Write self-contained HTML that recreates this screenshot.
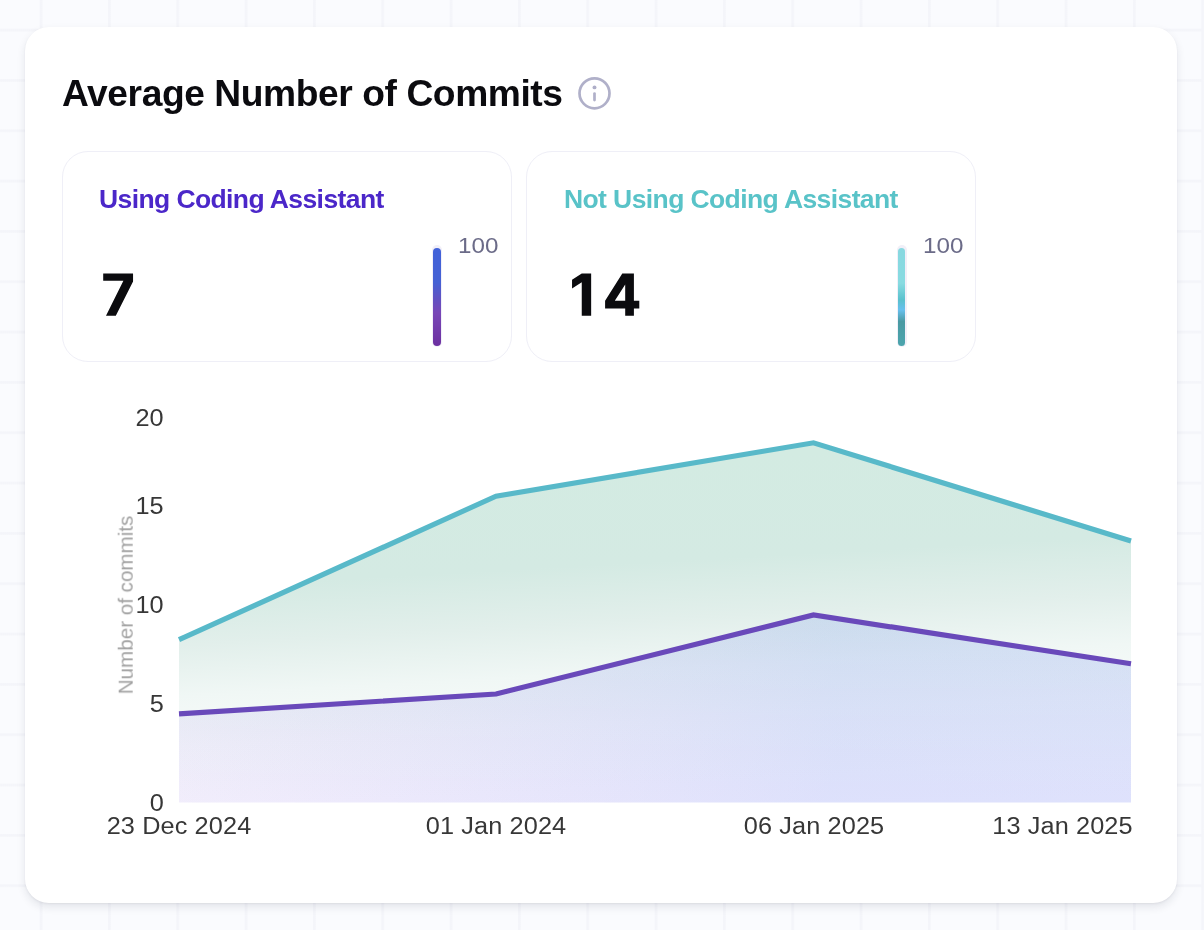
<!DOCTYPE html>
<html>
<head>
<meta charset="utf-8">
<title>Average Number of Commits</title>
<style>
  * { box-sizing: border-box; margin: 0; padding: 0; }
  html, body { width: 1204px; height: 930px; overflow: hidden; }
  body {
    position: relative;
    font-family: "Liberation Sans", sans-serif;
    background-color: #fafbfe;
    background-image:
      linear-gradient(to right, #f6f7fb 0, #f4f5fa 0.6px, #f4f5fa 2px, #f6f7fb 2.6px, transparent 2.6px),
      linear-gradient(to bottom, #f6f7fb 0, #f4f5fa 0.6px, #f4f5fa 2px, #f6f7fb 2.6px, transparent 2.6px);
    background-size: 68.33px 50.33px, 68.33px 50.33px;
    background-position: 39.7px 28.7px, 39.7px 28.7px;
  }
  .panel {
    position: absolute; left: 25px; top: 27px; width: 1152px; height: 876px;
    background: #fff; border-radius: 24px;
    box-shadow: 0 4px 9px rgba(30, 35, 60, 0.10), 0 1px 2px rgba(30,35,60,0.06);
  }
  .abs { position: absolute; white-space: nowrap; line-height: 1; will-change: transform; }
  .title { left: 62px; top: 74.7px; font-size: 37.2px; letter-spacing: -0.42px; font-weight: bold; color: #0b0b0f; }
  .stat {
    position: absolute; top: 151px; height: 210.5px; width: 449.5px;
    border: 1px solid #efeff7; border-radius: 26px; background: #fff;
  }
  .stat-label { font-size: 26.5px; letter-spacing: -0.6px; font-weight: bold; }
  .stat-num { font-size: 61.5px; font-weight: bold; color: #0b0b0f; transform-origin: 0 50%; transform: scaleX(1.06); }
  .hundred { font-size: 22px; color: #6b6b88; transform-origin: 0 50%; transform: scaleX(1.1); }
  .track { position: absolute; width: 10px; border-radius: 5px; background: #f1eff8; }
  .fill { position: absolute; width: 8px; border-radius: 4px; }
  .tick { font-size: 23px; color: #373737; letter-spacing: 0.1px; }
  .ty { transform-origin: 100% 50%; transform: scaleX(1.1); }
</style>
</head>
<body>
  <div class="panel"></div>

  <div class="abs title" id="title">Average Number of Commits</div>
  <svg class="abs" id="info" style="left:576px; top:75px;" width="37" height="37" viewBox="0 0 37 37">
    <circle cx="18.5" cy="18.3" r="15" fill="none" stroke="#b0b0c9" stroke-width="2.7"/>
    <circle cx="18.5" cy="12.4" r="1.95" fill="#aeaec8"/>
    <line x1="18.5" y1="18.6" x2="18.5" y2="25.1" stroke="#b0b0c9" stroke-width="2.7" stroke-linecap="round"/>
  </svg>

  <div class="stat" style="left:62px;"></div>
  <div class="stat" style="left:526px;"></div>

  <div class="abs stat-label" id="l1" style="left:99px; top:185.6px; color:#4b27c9;">Using Coding Assistant</div>
  <div class="abs stat-label" id="l2" style="left:564px; top:185.6px; color:#59c3c8;">Not Using Coding Assistant</div>

  <svg class="abs" id="nums" style="left:0; top:260px;" width="1204" height="70" viewBox="0 260 1204 70">
    <g fill="#0b0b0e">
      <path id="n1" d="M103.2 273.6 H133.05 V281.5 L115.8 315.8 H106 L123.4 280.85 H103.2 Z"/>
      <path id="n2a" d="M581.75 273.5 H591.15 V315.8 H581.75 V282.35 L572.05 288.6 V279.85 Z"/>
      <path id="n2b" fill-rule="evenodd" d="M622.3 273.5 H633.9 V300.85 H639.3 V308.5 H633.9 V315.8 H625.2 V308.5 H605.1 V300.85 Z M625.2 284.4 V300.85 H614.8 Z"/>
    </g>
  </svg>

  <div class="track" style="left:432px; top:245px; height:102px;"></div>
  <div class="fill" style="left:433px; top:247.5px; height:98.5px; background:linear-gradient(to bottom,#4162d9 0%,#4561d4 35%,#6151c2 52%,#7847b7 66%,#6c30a0 100%);"></div>
  <div class="track" style="left:896.5px; top:245px; height:102px;"></div>
  <div class="fill" style="left:897.8px; width:7.5px; top:247.5px; height:98.5px; background:linear-gradient(to bottom,#88d8e0 0%,#88dbe1 36%,#5ac1cd 53%,#68c0ee 63%,#4a9aa3 75%,#4ca5ad 100%);"></div>

  <div class="abs hundred" id="h1" style="left:458px; top:234.7px;">100</div>
  <div class="abs hundred" id="h2" style="left:922.5px; top:234.7px;">100</div>

  <svg class="abs" id="chart" style="left:0; top:380px;" width="1204" height="440" viewBox="0 380 1204 440">
    <defs>
      <linearGradient id="gC" gradientUnits="userSpaceOnUse" x1="1000" y1="442" x2="1019.74" y2="800.9">
        <stop offset="0" stop-color="#d3ebe2"/>
        <stop offset="0.28" stop-color="#d4eae3"/>
        <stop offset="0.44" stop-color="#e2efeb"/>
        <stop offset="0.58" stop-color="#f0f7f5"/>
        <stop offset="0.72" stop-color="#f8fbfa"/>
        <stop offset="0.9" stop-color="#fdfefe"/>
        <stop offset="1" stop-color="#ffffff"/>
      </linearGradient>
      <linearGradient id="gP" gradientUnits="userSpaceOnUse" x1="179" y1="0" x2="1131" y2="0">
        <stop offset="0" stop-color="#8c5aeb" stop-opacity="0.10"/>
        <stop offset="0.69" stop-color="#5868ef" stop-opacity="0.20"/>
        <stop offset="1" stop-color="#5868ef" stop-opacity="0.195"/>
      </linearGradient>
      <linearGradient id="gT" gradientUnits="userSpaceOnUse" x1="0" y1="615" x2="0" y2="800">
        <stop offset="0" stop-color="#dcffec" stop-opacity="0.17"/>
        <stop offset="1" stop-color="#dcffec" stop-opacity="0"/>
      </linearGradient>
    </defs>
    <path d="M179 639.7 L496 496.2 L813.5 442.8 L1131 541 L1131 802.5 L179 802.5 Z" fill="url(#gC)"/>
    <path d="M179 713.8 L496 694 L813.5 615 L1131 663.7 L1131 802.5 L179 802.5 Z" fill="url(#gP)"/>
    <path d="M179 713.8 L496 694 L813.5 615 L1131 663.7 L1131 802.5 L179 802.5 Z" fill="url(#gT)"/>
    <path d="M179 639.7 L496 496.2 L813.5 442.8 L1131 541" fill="none" stroke="#58b9c9" stroke-width="5.2" stroke-linejoin="miter"/>
    <path d="M179 713.8 L496 694 L813.5 615 L1131 663.7" fill="none" stroke="#6949ba" stroke-width="5.2" stroke-linejoin="miter"/>
  </svg>

  <div class="abs tick ty" id="y20" style="right:1040.5px; top:407px;">20</div>
  <div class="abs tick ty" id="y15" style="right:1040.5px; top:495px;">15</div>
  <div class="abs tick ty" id="y10" style="right:1040.5px; top:594px;">10</div>
  <div class="abs tick ty" id="y5" style="right:1040.5px; top:693px;">5</div>
  <div class="abs tick ty" id="y0" style="right:1040.5px; top:792px;">0</div>

  <div class="abs" id="ytitle" style="left:126px; top:605.2px; font-size:20.6px; color:#a2a2a2; transform: translate(-50%,-50%) rotate(-90deg);">Number of commits</div>

  <div class="abs tick" id="x1" style="left:179.3px; top:815.3px; transform:translateX(-50%) scaleX(1.1);">23 Dec 2024</div>
  <div class="abs tick" id="x2" style="left:496.3px; top:815.3px; transform:translateX(-50%) scaleX(1.1);">01 Jan 2024</div>
  <div class="abs tick" id="x3" style="left:813.7px; top:815.3px; transform:translateX(-50%) scaleX(1.1);">06 Jan 2025</div>
  <div class="abs tick" id="x4" style="right:71px; top:815.3px; transform-origin:100% 50%; transform:scaleX(1.1);">13 Jan 2025</div>
</body>
</html>
